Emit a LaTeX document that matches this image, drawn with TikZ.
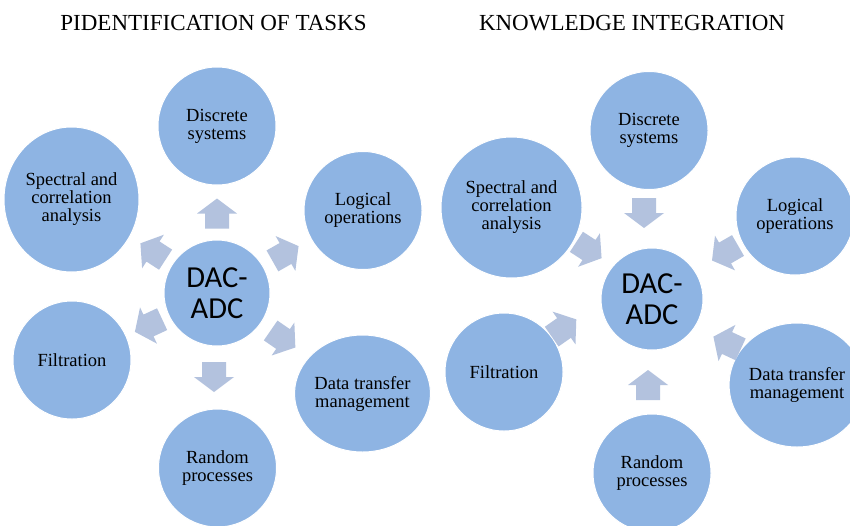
\documentclass[tikz,border=0pt]{standalone}
\usepackage{fontspec}
\setmainfont{Liberation Serif}
\newfontfamily\calibfont{Carlito}
\usetikzlibrary{shapes.geometric}
\definecolor{circfill}{RGB}{142,180,227}
\definecolor{arrfill}{RGB}{179,194,222}
\tikzset{
  bubble/.style={circle, fill=circfill, draw=white, line width=1pt, inner sep=0pt,
    minimum size=#1, align=center, font=\fontsize{18.5}{18}\selectfont},
  oval/.style 2 args={ellipse, fill=circfill, draw=white, line width=1pt, inner sep=0pt,
    minimum width=#1, minimum height=#2, align=center, font=\fontsize{18.5}{18}\selectfont},
  core/.style={circle, fill=circfill, draw=white, line width=1pt, inner sep=0pt,
    minimum size=#1, align=center, font=\calibfont\fontsize{30.5}{31}\selectfont},
  titletext/.style={anchor=base, font=\fontsize{23}{27}\selectfont},
  blockarrow/.pic={\fill[arrfill] (-15,-12) -- (0,-12) -- (0,-20) -- (15,0) -- (0,20) -- (0,12) -- (-15,12) -- cycle;}
}
\begin{document}
\begin{tikzpicture}[x=1pt,y=-1pt]
\useasboundingbox (0,0) rectangle (850,525);
\clip (0,0) rectangle (850,525);
\fill[white] (0,0) rectangle (850,525);

% titles
\node[titletext] (t1) at (213.5,30) {PIDENTIFICATION OF TASKS};
\node[titletext] (t2) at (632,30) {KNOWLEDGE INTEGRATION};

% left diagram
\node[bubble=118pt] (discL) at (217,126) {Discrete\\systems};
\node[oval={135pt}{145pt}] (specL) at (71.5,199.5) {Spectral and\\correlation\\analysis};
\node[bubble=118pt] (logL) at (363,210.5) {Logical\\operations};
\node[core=106pt] (dacL) at (217,293) {DAC-\\ADC};
\node[bubble=118pt] (filtL) at (72,360) {Filtration};
\node[oval={135pt}{117pt}] (dataL) at (362.5,393.5) {Data transfer\\management};
\node[bubble=118pt] (randL) at (217.5,468) {Random\\processes};

\pic[rotate=90] at (217,213.5) {blockarrow};
\pic[rotate=147] at (153,251.5) {blockarrow};
\pic[rotate=29.5] at (285.5,253.5) {blockarrow};
\pic[rotate=205] at (148.5,325.5) {blockarrow};
\pic[rotate=-34.6] at (283,339) {blockarrow};
\pic[rotate=-90] at (214,377) {blockarrow};

% right diagram
\node[bubble=118pt] (discR) at (649,130.5) {Discrete\\systems};
\node[bubble=141pt] (specR) at (511.5,207.5) {Spectral and\\correlation\\analysis};
\node[bubble=118pt] (logR) at (795,216) {Logical\\operations};
\node[core=102pt] (dacR) at (652,299) {DAC-\\ADC};
\node[bubble=118pt] (filtR) at (504,372) {Filtration};
\node[oval={135pt}{124pt}] (dataR) at (797,385) {Data transfer\\management};
\node[bubble=118pt] (randR) at (652,473) {Random\\processes};

\pic[rotate=-90] at (644,213) {blockarrow};
\pic[rotate=-33] at (589,250) {blockarrow};
\pic[rotate=210] at (725,253) {blockarrow};
\pic[rotate=35] at (564,328) {blockarrow};
\pic[rotate=155] at (727,343) {blockarrow};
\pic[rotate=90] at (648,385) {blockarrow};
\end{tikzpicture}
\end{document}
